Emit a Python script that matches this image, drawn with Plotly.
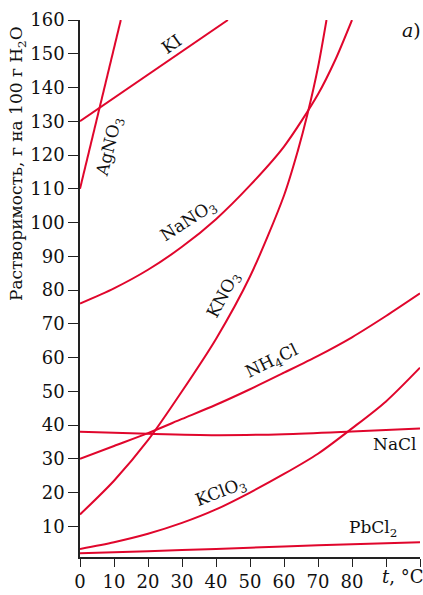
import plotly.graph_objects as go

# Temperatures (°C) and solubility (g per 100 g H2O)
t_ki = [0, 43.5]
ki = [130, 160]

t_agno3 = [0, 12]
agno3 = [110, 160]

t_nano3 = [0, 10, 20, 30, 40, 50, 60, 70, 75, 80]
nano3 = [76, 80.5, 86, 92.8, 101, 111, 122.5, 138, 148, 160]

t_kno3 = [0, 10, 20, 30, 40, 50, 60, 64, 67, 70, 72.5]
kno3 = [13.5, 23.5, 35.5, 50, 65.5, 84, 108, 121, 132.5, 146, 160]

t_nh4cl = [0, 10, 20, 30, 40, 50, 60, 70, 80, 90, 100]
nh4cl = [30, 33.8, 37.6, 41.8, 46, 50.6, 55.5, 60.5, 66, 72.3, 79]

t_nacl = [0, 20, 40, 60, 80, 100]
nacl = [38, 37.4, 37, 37.3, 38.1, 39]

t_kclo3 = [0, 10, 20, 30, 40, 50, 60, 70, 80, 90, 100]
kclo3 = [3.3, 5.3, 7.8, 11, 15, 20, 25.5, 31.5, 39, 47, 57]

t_pbcl2 = [0, 20, 40, 60, 80, 100]
pbcl2 = [2.0, 2.6, 3.3, 4.0, 4.7, 5.3]

x_ticks = [0, 10, 20, 30, 40, 50, 60, 70, 80]
x_extra_ticks = [90, 100]
y_ticks = [10, 20, 30, 40, 50, 60, 70, 80, 90, 100, 110, 120, 130, 140, 150, 160]

RED = "#e0062c"
FONT = "DejaVu Serif"

series = [
    (t_ki, ki), (t_agno3, agno3), (t_nano3, nano3), (t_kno3, kno3),
    (t_nh4cl, nh4cl), (t_nacl, nacl), (t_kclo3, kclo3), (t_pbcl2, pbcl2),
]

fig = go.Figure()
for xs, ys in series:
    fig.add_trace(go.Scatter(x=xs, y=ys, mode="lines",
                             line=dict(color=RED, width=2, shape="spline", smoothing=0.8),
                             hoverinfo="skip", showlegend=False))

labels = [
    ("KI", 27.0, 152.8, -35, 17),
    ("AgNO<sub>3</sub>", 8.8, 122.6, -76, 17),
    ("NaNO<sub>3</sub>", 31.8, 100.3, -33, 17),
    ("KNO<sub>3</sub>", 42.4, 78.3, -62, 17),
    ("NH<sub>4</sub>Cl", 56.6, 58.9, -26, 17),
    ("KClO<sub>3</sub>", 41.6, 19.9, -21, 17),
    ("NaCl", 92.5, 34.3, 0, 17),
    ("PbCl<sub>2</sub>", 86.1, 9.4, 0, 17),
    ("<i>a</i>)", 97.6, 156.9, 0, 19),
]
for txt, x, y, ang, sz in labels:
    fig.add_annotation(x=x, y=y, text=txt, textangle=ang, showarrow=False,
                       xanchor="center", yanchor="middle",
                       font=dict(family=FONT, size=sz, color="#111"))

fig.add_annotation(x=94.9, y=-0.037, xref="x", yref="paper", text="<i>t</i>, °C",
                   xanchor="center", yanchor="middle",
                   showarrow=False, font=dict(family=FONT, size=18, color="#111"))
fig.add_annotation(x=-0.182, y=0.732, xref="paper", yref="paper",
                   text="Растворимость, г на 100 г H<sub>2</sub>O", textangle=-90,
                   xanchor="center", yanchor="middle",
                   showarrow=False, font=dict(family=FONT, size=17, color="#111"))

fig.update_layout(
    width=423, height=595, autosize=False,
    margin=dict(l=80, r=3, t=20, b=33),
    paper_bgcolor="white", plot_bgcolor="white",
    font=dict(family=FONT, size=18, color="#111"),
    xaxis=dict(range=[0, 100], tickvals=x_ticks,
               showline=True, linecolor="#222", linewidth=1.5,
               ticks="outside", ticklen=8, tickwidth=1.3, tickcolor="#222",
               minor=dict(tickvals=x_extra_ticks, ticks="outside", ticklen=8,
                          tickwidth=1.3, tickcolor="#222", showgrid=False),
               showgrid=False, zeroline=False, fixedrange=True),
    yaxis=dict(range=[0.9, 160], tickvals=y_ticks,
               showline=True, linecolor="#222", linewidth=1.5,
               ticks="outside", ticklen=10, tickwidth=1.3, tickcolor="#222",
               showgrid=False, zeroline=False, fixedrange=True),
)

fig.write_html("out.html", config={"displayModeBar": False},
               post_script="document.body.style.margin='0';document.body.style.overflow='hidden';")
